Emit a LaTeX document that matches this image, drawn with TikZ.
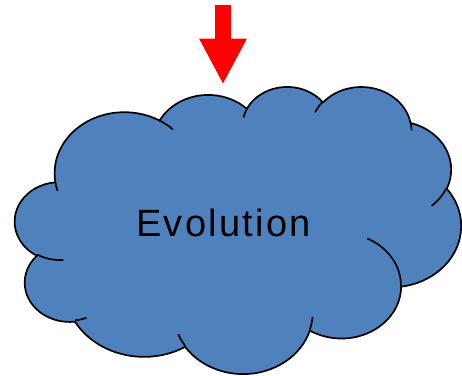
\documentclass[tikz,border=0pt]{standalone}
\usepackage{fontspec}
\setmainfont{Liberation Sans}
\newfontfamily\evofont{Liberation Sans}[LetterSpace=6]
\usetikzlibrary{arrows.meta}
\definecolor{cloudblue}{HTML}{4F81BD}

\begin{document}
\begin{tikzpicture}[x=1pt,y=-1pt,
declare function={pa(\w,\h,\t)=atan2(\w*sin(\t),\h*cos(\t));},
puff/.style n args={4}{x radius=#1,y radius=#2,start angle={pa(#1,#2,#3)},
  delta angle={mod(pa(#1,#2,#3+#4)-pa(#1,#2,#3)+720,360)}},
outline/.style={draw=black,line width=1.7pt},
bigarrow/.style={red,line width=16pt,-{Triangle[width=48pt,length=45pt,line width=0pt]}},
evotext/.style={inner sep=0pt,font=\evofont\fontsize{38}{46}\selectfont}]
\useasboundingbox (0,0) rectangle (462,375);
% cloud outline, in 1/100 of the shape box
\begin{scope}[shift={(15,86)},x=1.0324pt,y=-0.6644pt]
\path[fill=cloudblue,outline] (39.00,143.70)
  arc[puff={67.53}{91.90}{-190.4875}{123.7805}]
  arc[puff={53.33}{72.67}{-144.1024}{89.9452}]
  arc[puff={43.65}{59.45}{-145.8079}{99.7230}]
  arc[puff={48.57}{65.95}{-130.9861}{117.2417}]
  arc[puff={53.33}{72.73}{-78.7089}{109.0269}]
  arc[puff={67.75}{92.20}{-46.2673}{130.2690}]
  arc[puff={57.85}{78.67}{0.6250}{114.0333}]
  arc[puff={67.52}{92.15}{22.4516}{115.1726}]
  arc[puff={77.20}{105.43}{66.2426}{75.7110}]
  arc[puff={43.60}{59.18}{-274.9421}{146.7356}]
  arc[puff={43.45}{59.45}{-246.8285}{152.5189}]
  -- cycle;
% inner creases
\draw[outline] (46.93,261.77) arc[puff={43.45}{59.45}{86.7420}{26.4295}];
\draw[outline] (69.28,348.99) arc[puff={43.60}{59.18}{73.6105}{11.4475}];
\draw[outline] (164.78,390.90) arc[puff={67.52}{92.15}{137.6242}{14.0811}];
\draw[outline] (288.27,347.51) arc[puff={67.52}{92.15}{6.4533}{15.9984}];
\draw[outline] (341.29,229.54) arc[puff={57.85}{78.67}{-70.2924}{70.9174}];
\draw[outline] (417.98,153.54) arc[puff={53.33}{72.73}{30.3180}{27.7515}];
\draw[outline] (383.24,54.26) arc[puff={48.57}{65.95}{-13.7443}{14.8589}];
\draw[outline] (290.78,39.52) arc[puff={48.57}{65.95}{-149.1815}{18.1954}];
\draw[outline] (221.41,47.20) arc[puff={43.65}{59.45}{-163.4943}{17.6864}];
\draw[outline] (140.00,51.92) arc[puff={67.53}{91.90}{-66.7070}{12.3194}];
\draw[outline] (41.27,157.89) arc[puff={67.53}{91.90}{157.6544}{11.8580}];
\end{scope}
\node[evotext,anchor=base west] (evo) at (136,236.7) {Evolution};
\coordinate (src) at (223,5);
\coordinate (dst) at (223,83.5);
\draw[bigarrow] (src) -- (dst);
\end{tikzpicture}
\end{document}
